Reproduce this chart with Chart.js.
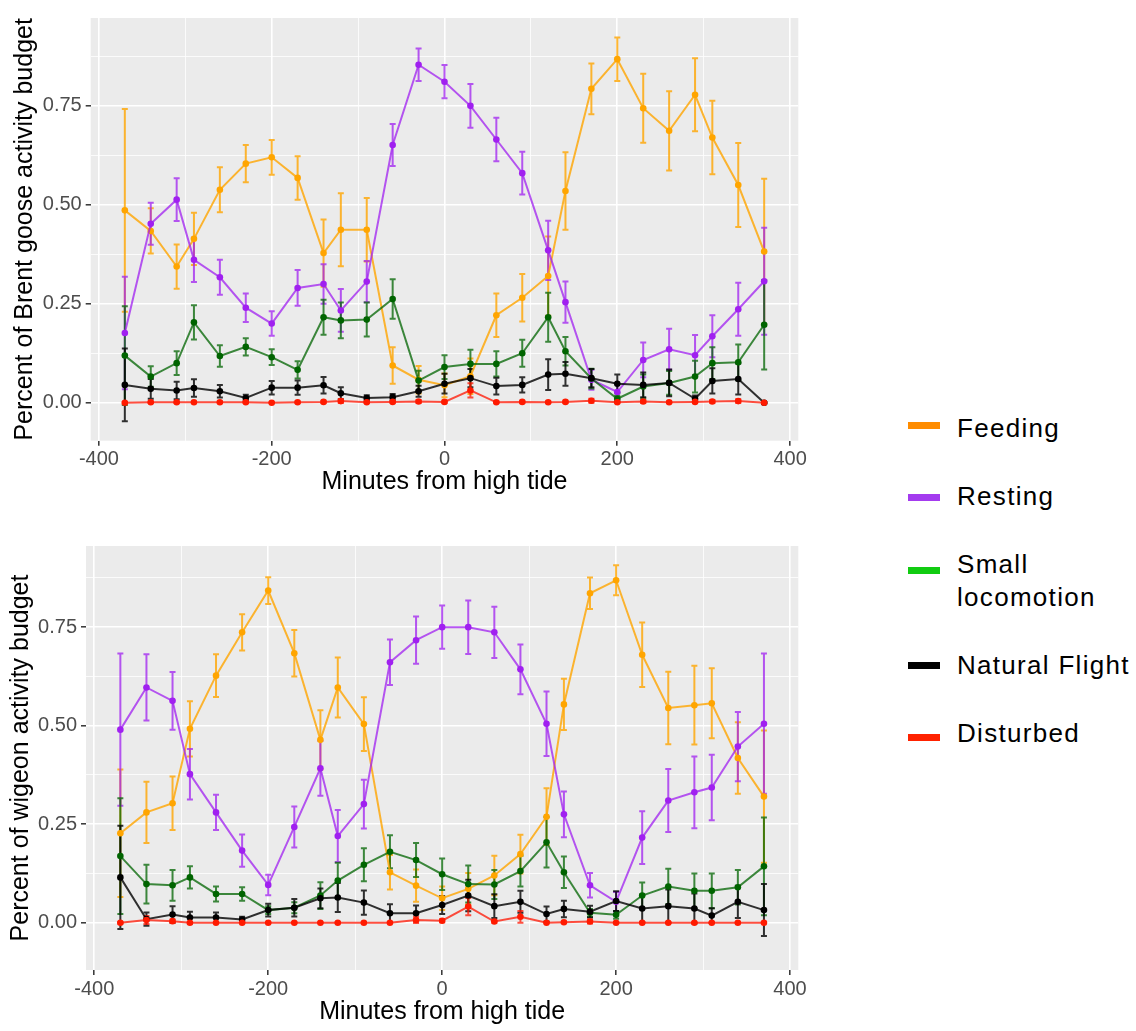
<!DOCTYPE html>
<html>
<head>
<meta charset="utf-8">
<script src="https://cdn.jsdelivr.net/npm/chart.js@4.4.0/dist/chart.umd.min.js"></script>
<style>
body{margin:0;background:#fff;width:1136px;height:1031px;position:relative;overflow:hidden;font-family:"Liberation Sans",Arial,sans-serif;}
#brent{position:absolute;left:0;top:0;}
#wigeon{position:absolute;left:0;top:520px;}
.key{position:absolute;left:908px;width:32px;height:7px;}
.lab{position:absolute;left:957px;font-size:26px;letter-spacing:1.3px;line-height:33px;color:#000;white-space:pre-line;}
</style>
</head>
<body>
<canvas id="brent" width="810" height="500"></canvas>
<canvas id="wigeon" width="810" height="511"></canvas>
<div id="legend"></div>
<script>
//Data
const minutes = [-370,-340,-310,-290,-260,-230,-200,-170,-140,-120,-90,-60,-30,0,30,60,90,120,140,170,200,230,260,290,310,340,370];
const activities = ['Feeding','Resting','Small locomotion','Natural Flight','Disturbed'];
const legendLabels = ['Feeding','Resting','Small\nlocomotion','Natural Flight','Disturbed'];
const xTicks = [-400,-300,-200,-100,0,100,200,300,400];
const yTicks = [0,0.125,0.25,0.375,0.5,0.625,0.75,0.875];

//Brent goose
const brentFeeding = [0.486,0.434,0.344,0.414,0.538,0.604,0.62,0.568,0.378,0.437,0.437,0.094,0.058,0.044,0.067,0.221,0.265,0.32,0.535,0.793,0.868,0.744,0.687,0.778,0.67,0.55,0.382];
const brentFeedingSe = [0.256,0.057,0.056,0.066,0.057,0.047,0.044,0.055,0.085,0.092,0.08,0.046,0.035,0.03,0.045,0.055,0.06,0.1,0.098,0.064,0.055,0.087,0.1,0.092,0.093,0.106,0.184];
const brentResting = [0.176,0.452,0.513,0.361,0.317,0.24,0.2,0.29,0.3,0.233,0.306,0.651,0.854,0.811,0.75,0.665,0.58,0.385,0.254,0.058,0.027,0.108,0.135,0.12,0.168,0.236,0.307];
const brentRestingSe = [0.142,0.053,0.054,0.056,0.044,0.036,0.031,0.045,0.05,0.054,0.052,0.053,0.041,0.042,0.055,0.055,0.054,0.075,0.052,0.025,0.02,0.044,0.052,0.051,0.053,0.067,0.135];
const brentLocomotion = [0.119,0.066,0.1,0.203,0.118,0.141,0.115,0.083,0.216,0.208,0.21,0.262,0.056,0.09,0.098,0.098,0.125,0.216,0.13,0.061,0.01,0.041,0.05,0.066,0.1,0.102,0.197];
const brentLocomotionSe = [0.125,0.026,0.03,0.043,0.027,0.022,0.02,0.022,0.044,0.045,0.043,0.05,0.025,0.03,0.036,0.032,0.034,0.062,0.036,0.025,0.008,0.03,0.03,0.04,0.04,0.045,0.113];
const brentFlight = [0.045,0.035,0.031,0.037,0.029,0.012,0.038,0.038,0.044,0.024,0.012,0.014,0.029,0.048,0.062,0.042,0.045,0.071,0.073,0.062,0.048,0.045,0.05,0.01,0.055,0.06,0.0];
const brentFlightSe = [0.092,0.025,0.022,0.022,0.016,0.008,0.017,0.018,0.021,0.015,0.007,0.008,0.014,0.025,0.023,0.021,0.019,0.039,0.03,0.023,0.023,0.031,0.034,0.008,0.032,0.039,0.002];
const brentDisturbed = [0,0.001,0.001,0.001,0.001,0.001,0,0.001,0.002,0.004,0.001,0.002,0.003,0.002,0.031,0.001,0.002,0.001,0.002,0.005,0.001,0.003,0.001,0.002,0.003,0.004,0];
const brentDisturbedSe = [0.002,0.002,0.002,0.002,0.002,0.002,0.001,0.002,0.003,0.005,0.002,0.003,0.004,0.003,0.018,0.002,0.003,0.002,0.003,0.005,0.002,0.004,0.002,0.003,0.004,0.005,0.001];

//Wigeon
const wigeonFeeding = [0.227,0.28,0.303,0.492,0.627,0.737,0.843,0.684,0.464,0.597,0.504,0.128,0.094,0.062,0.086,0.12,0.174,0.269,0.554,0.836,0.869,0.68,0.545,0.552,0.557,0.418,0.32];
const wigeonFeedingSe = [0.162,0.078,0.068,0.07,0.054,0.046,0.034,0.059,0.075,0.076,0.068,0.044,0.041,0.03,0.04,0.05,0.049,0.072,0.065,0.04,0.038,0.082,0.092,0.1,0.089,0.091,0.168];
const wigeonResting = [0.49,0.597,0.563,0.377,0.28,0.183,0.096,0.243,0.392,0.22,0.301,0.661,0.717,0.75,0.75,0.737,0.643,0.505,0.275,0.095,0.053,0.216,0.31,0.331,0.343,0.447,0.505];
const wigeonRestingSe = [0.193,0.084,0.073,0.064,0.045,0.041,0.026,0.052,0.07,0.066,0.062,0.058,0.06,0.055,0.068,0.065,0.063,0.082,0.058,0.031,0.025,0.067,0.08,0.091,0.083,0.088,0.178];
const wigeonLocomotion = [0.169,0.098,0.095,0.115,0.073,0.073,0.032,0.038,0.069,0.107,0.147,0.18,0.159,0.123,0.098,0.097,0.131,0.204,0.128,0.025,0.02,0.069,0.092,0.081,0.081,0.09,0.143];
const wigeonLocomotionSe = [0.147,0.049,0.039,0.028,0.019,0.017,0.01,0.014,0.034,0.045,0.042,0.042,0.043,0.04,0.047,0.037,0.039,0.064,0.04,0.01,0.01,0.033,0.045,0.044,0.044,0.044,0.124];
const wigeonFlight = [0.115,0.009,0.021,0.013,0.013,0.008,0.032,0.038,0.062,0.064,0.051,0.024,0.024,0.045,0.069,0.042,0.053,0.022,0.035,0.028,0.055,0.036,0.042,0.036,0.018,0.053,0.032];
const wigeonFlightSe = [0.131,0.017,0.021,0.015,0.013,0.007,0.016,0.022,0.025,0.037,0.031,0.023,0.02,0.023,0.04,0.03,0.028,0.019,0.021,0.015,0.025,0.035,0.042,0.038,0.019,0.041,0.066];
const wigeonDisturbed = [0,0.007,0.004,0,0,0,0,0,0,0,0,0,0.007,0.005,0.041,0.003,0.015,0,0.001,0.003,0,0,0,0,0,0,0];
const wigeonDisturbedSe = [0.002,0.01,0.004,0.001,0.001,0.001,0.001,0.001,0.001,0.001,0.001,0.001,0.008,0.004,0.022,0.003,0.015,0.001,0.002,0.005,0.001,0.001,0.001,0.001,0.001,0.001,0.001];

//Styles
const lineColors = ['rgba(255,165,0,0.8)','rgba(160,32,240,0.75)','rgba(0,100,0,0.75)','rgba(0,0,0,0.8)','rgba(255,20,0,0.75)'];
const pointColors = ['#FFA500','#A020F0','#006400','#000000','#FF1A00'];
const keyColors = ['#FF8C00','#A43BEF','#11CC11','#000000','#FF2200'];
const keyTops = [425,497,570,665,737];
const labelTops = [412,480,548,649,717];
const font = '"Liberation Sans", Arial, sans-serif';

const isMajor = (v, step) => Math.abs(v / step - Math.round(v / step)) < 1e-6;

const panelBg = {
    id: 'panelBg',
    beforeDraw(chart) {
        const a = chart.chartArea;
        chart.ctx.save();
        chart.ctx.fillStyle = '#EBEBEB';
        chart.ctx.fillRect(a.left, a.top, a.right - a.left, a.bottom - a.top);
        chart.ctx.restore();
    }
};

const errorBars = {
    id: 'errorBars',
    beforeDatasetsDraw(chart) {
        const ctx = chart.ctx;
        const yScale = chart.scales.y;
        chart.data.datasets.forEach((ds, i) => {
            const meta = chart.getDatasetMeta(i);
            ctx.save();
            ctx.strokeStyle = ds.borderColor;
            ctx.lineWidth = 2;
            meta.data.forEach((pt, j) => {
                const top = yScale.getPixelForValue(ds.data[j].y + ds.err[j]);
                const bot = yScale.getPixelForValue(ds.data[j].y - ds.err[j]);
                ctx.beginPath();
                ctx.moveTo(pt.x, top);
                ctx.lineTo(pt.x, bot);
                ctx.moveTo(pt.x - 3, top);
                ctx.lineTo(pt.x + 3, top);
                ctx.moveTo(pt.x - 3, bot);
                ctx.lineTo(pt.x + 3, bot);
                ctx.stroke();
            });
            ctx.restore();
        });
    }
};

const makeChart = (id, series, errors, yTitle, yMin, yMax, box) => {
    const datasets = series.map((vals, i) => ({
        label: activities[i],
        data: minutes.map((m, j) => ({x: m, y: vals[j]})),
        err: errors[i],
        borderColor: lineColors[i],
        backgroundColor: pointColors[i],
        pointBackgroundColor: pointColors[i],
        pointBorderWidth: 0,
        pointRadius: 3.3,
        borderWidth: 2,
        tension: 0,
        fill: false,
        order: 5 - i
    }));
    return new Chart(document.getElementById(id), {
        type: 'line',
        data: {datasets: datasets},
        options: {
            responsive: false,
            animation: false,
            layout: {padding: {top: box.top, right: box.right, left: 0, bottom: 0}},
            plugins: {legend: {display: false}, tooltip: {enabled: false}},
            scales: {
                x: {
                    type: 'linear',
                    min: -409.5,
                    max: 409.5,
                    afterBuildTicks: s => { s.ticks = xTicks.map(v => ({value: v})); },
                    afterFit: s => { s.height = box.xHeight; },
                    border: {display: false},
                    grid: {
                        color: '#FFFFFF',
                        lineWidth: c => isMajor(c.tick.value, 200) ? 1.6 : 0.8,
                        tickColor: c => isMajor(c.tick.value, 200) ? '#333333' : 'rgba(0,0,0,0)',
                        tickLength: 5,
                        tickWidth: 1.5
                    },
                    ticks: {
                        autoSkip: false,
                        maxRotation: 0,
                        color: '#4D4D4D',
                        font: {size: 20, family: font},
                        padding: 2,
                        callback: v => isMajor(v, 200) ? String(v) : ''
                    },
                    title: {
                        display: true,
                        text: 'Minutes from high tide',
                        color: '#000000',
                        font: {size: 25, family: font},
                        padding: {top: 0, bottom: box.xTitlePad}
                    }
                },
                y: {
                    min: yMin,
                    max: yMax,
                    afterBuildTicks: s => { s.ticks = yTicks.map(v => ({value: v})); },
                    afterFit: s => { s.width = box.yWidth; },
                    border: {display: false},
                    grid: {
                        color: '#FFFFFF',
                        lineWidth: c => isMajor(c.tick.value, 0.25) ? 1.6 : 0.8,
                        tickColor: c => isMajor(c.tick.value, 0.25) ? '#333333' : 'rgba(0,0,0,0)',
                        tickLength: 5,
                        tickWidth: 1.5
                    },
                    ticks: {
                        autoSkip: false,
                        color: '#4D4D4D',
                        font: {size: 20, family: font},
                        padding: 4,
                        callback: v => isMajor(v, 0.25) ? v.toFixed(2) : ''
                    },
                    title: {
                        display: true,
                        text: yTitle,
                        color: '#000000',
                        font: {size: 25, family: font},
                        padding: {top: box.yTitlePad, bottom: 0}
                    }
                }
            }
        },
        plugins: [panelBg, errorBars]
    });
};

makeChart('brent',
    [brentFeeding, brentResting, brentLocomotion, brentFlight, brentDisturbed],
    [brentFeedingSe, brentRestingSe, brentLocomotionSe, brentFlightSe, brentDisturbedSe],
    'Percent of Brent goose activity budget', -0.096, 0.972,
    {top: 18, right: 11.7, yWidth: 90.7, xHeight: 59.3, xTitlePad: 3, yTitlePad: 10});

makeChart('wigeon',
    [wigeonFeeding, wigeonResting, wigeonLocomotion, wigeonFlight, wigeonDisturbed],
    [wigeonFeedingSe, wigeonRestingSe, wigeonLocomotionSe, wigeonFlightSe, wigeonDisturbedSe],
    'Percent of wigeon activity budget', -0.12, 0.956,
    {top: 26, right: 11.7, yWidth: 86, xHeight: 61, xTitlePad: 4, yTitlePad: 6});

//Legend
const legend = document.querySelector('#legend');
activities.forEach((name, i) => {
    const key = document.createElement('div');
    key.className = 'key';
    key.style.top = (keyTops[i] - 3.5) + 'px';
    key.style.background = keyColors[i];
    legend.appendChild(key);
    const lab = document.createElement('div');
    lab.className = 'lab';
    lab.style.top = labelTops[i] + 'px';
    lab.textContent = legendLabels[i];
    legend.appendChild(lab);
});
</script>
</body>
</html>
